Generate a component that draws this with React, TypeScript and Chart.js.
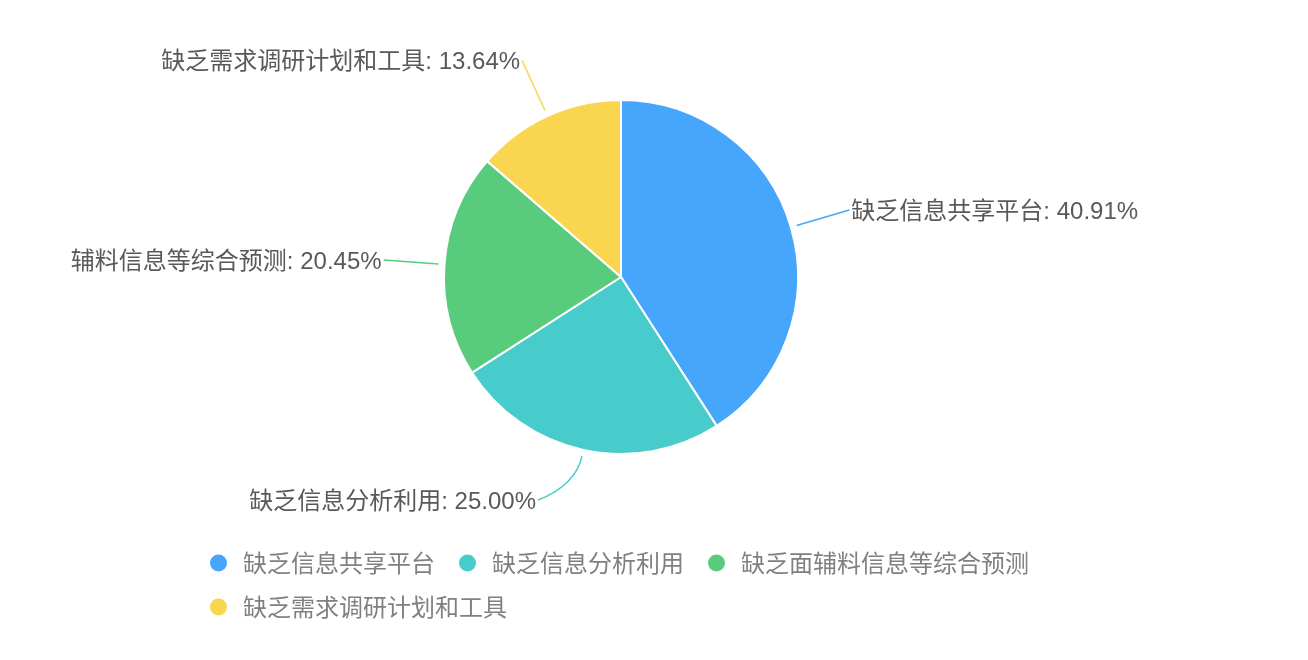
import React, { useEffect, useRef } from "react";
import { Chart, registerables } from "chart.js";

Chart.register(...registerables);

const categories = ["缺乏信息共享平台", "缺乏信息分析利用", "缺乏面辅料信息等综合预测", "缺乏需求调研计划和工具"];
const calloutNames = ["缺乏信息共享平台", "缺乏信息分析利用", "辅料信息等综合预测", "缺乏需求调研计划和工具"];
const percentValues = [40.91, 25.0, 20.45, 13.64];
const sliceColors = ["#46A6FB", "#47CBCB", "#58CC7C", "#FAD54F"];

const FONT = '"Liberation Sans", "Noto Sans CJK SC", sans-serif';

const calloutPlugin = {
  id: "callouts",
  afterDatasetsDraw(chart: any) {
    const ctx = chart.ctx;
    const meta = chart.getDatasetMeta(0);
    const ds = chart.data.datasets[0];
    ctx.save();
    ctx.font = `24px ${FONT}`;
    ctx.textBaseline = "middle";
    meta.data.forEach((arc: any, i: number) => {
      const p = arc.getProps(["x", "y", "startAngle", "endAngle", "outerRadius"], true);
      const mid = (p.startAngle + p.endAngle) / 2;
      const dx = Math.cos(mid);
      const dy = Math.sin(mid);
      const r = p.outerRadius;
      const sx = p.x + dx * (r + 6);
      const sy = p.y + dy * (r + 6);
      const D = r + 61;
      let ax = dx * D;
      let ay = dy * D;
      let curved = false;
      const minX = 83;
      if (Math.abs(ax) < minX) {
        ax = (dx >= 0 ? 1 : -1) * minX;
        ay = (dy >= 0 ? 1 : -1) * Math.sqrt(D * D - minX * minX);
        curved = true;
      }
      const ex = p.x + ax;
      const ey = p.y + ay;
      ctx.strokeStyle = ds.backgroundColor[i];
      ctx.lineWidth = 1.5;
      ctx.beginPath();
      ctx.moveTo(sx, sy);
      if (curved) {
        const cx = sx + dx * 30;
        const cy = sy + dy * 30;
        ctx.quadraticCurveTo(cx, cy, ex, ey);
      } else {
        ctx.lineTo(ex, ey);
      }
      ctx.stroke();
      const text = `${calloutNames[i]}: ${Number(ds.data[i]).toFixed(2)}%`;
      ctx.fillStyle = "#595959";
      if (ax >= 0) {
        ctx.textAlign = "left";
        ctx.fillText(text, ex + 2, ey + 2);
      } else {
        ctx.textAlign = "right";
        ctx.fillText(text, ex - 2, ey + 2);
      }
    });
    ctx.restore();
  },
};

const legendPlugin = {
  id: "customLegend",
  afterDraw(chart: any) {
    const ctx = chart.ctx;
    const ds = chart.data.datasets[0];
    const labels: string[] = chart.data.labels;
    const startX = 202;
    const maxRight = chart.width - 40;
    let x = startX;
    let y = 555;
    const rowGap = 44;
    const markerR = 8.5;
    const textOffset = 33;
    const itemGap = 24;
    ctx.save();
    ctx.font = `24px ${FONT}`;
    ctx.textBaseline = "middle";
    ctx.textAlign = "left";
    labels.forEach((lab, i) => {
      const tw = ctx.measureText(lab).width;
      const w = textOffset + tw;
      if (x !== startX && x + w > maxRight) {
        x = startX;
        y += rowGap;
      }
      ctx.fillStyle = ds.backgroundColor[i];
      ctx.beginPath();
      ctx.arc(x + markerR, y, markerR, 0, Math.PI * 2);
      ctx.fill();
      ctx.fillStyle = "#808080";
      ctx.fillText(lab, x + textOffset, y + 2);
      x += w + itemGap;
    });
    ctx.restore();
  },
};

export default function App() {
  const ref = useRef<HTMLCanvasElement>(null);
  useEffect(() => {
    if (!ref.current) return;
    const chart = new Chart(ref.current, {
      type: "pie",
      data: {
        labels: categories,
        datasets: [
          {
            data: percentValues,
            backgroundColor: sliceColors,
            borderColor: "#ffffff",
            borderWidth: 2,
          },
        ],
      },
      options: {
        responsive: false,
        animation: false,
        layout: { padding: { top: 91, bottom: 197, left: 0, right: 66 } },
        plugins: {
          legend: { display: false },
          tooltip: { enabled: false },
        },
      },
      plugins: [calloutPlugin, legendPlugin],
    });
    return () => chart.destroy();
  }, []);
  return <canvas ref={ref} width={1292} height={644} style={{ display: "block" }} />;
}
